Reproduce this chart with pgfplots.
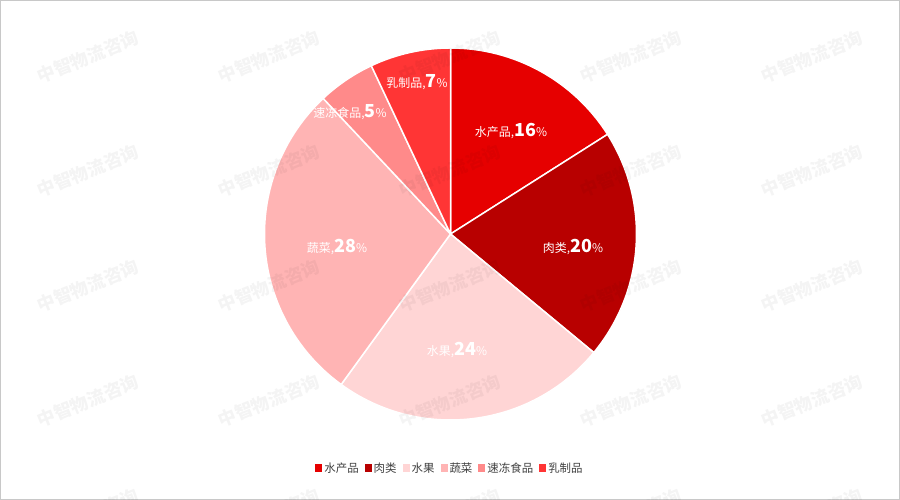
\documentclass[border=0pt]{standalone}
\usepackage{pgfplots}
\pgfplotsset{compat=1.18}
\usepackage{pgfplotstable}
\usepackage{fontspec}
\setmainfont{Noto Sans CJK SC}

\definecolor{c1}{HTML}{E60000}
\definecolor{c2}{HTML}{B80000}
\definecolor{c3}{HTML}{FFD5D5}
\definecolor{c4}{HTML}{FFB4B4}
\definecolor{c5}{HTML}{FF8A8A}
\definecolor{c6}{HTML}{FF3535}
\definecolor{lg}{HTML}{404040}
\definecolor{frame}{HTML}{C8C8C8}

% share of each category, slice colour, label position (px, origin bottom left)
\pgfplotstableread[col sep=comma]{
name,value,col,lx,ly
水产品,16,c1,511,369
肉类,20,c2,573,253
水果,24,c3,457,150
蔬菜,28,c4,337,253
速冻食品,5,c5,350,388
乳制品,7,c6,417,418
}\piedata

\newcommand\labfmt[2]{{\fontsize{12}{13}\selectfont #1,}{\fontsize{18}{19}\selectfont\bfseries #2}{\fontsize{12}{13}\selectfont\%}}

\begin{document}
\begin{tikzpicture}
\useasboundingbox (0,0) rectangle (900bp,500bp);
\clip (0,0) rectangle (900bp,500bp);
\begin{axis}[
  x=1bp, y=1bp,
  xmin=0, xmax=900, ymin=0, ymax=500,
  hide axis,
  legend columns=6,
  legend image code/.code={\fill[#1, draw=none] (0bp,-3.5bp) rectangle (7bp,3.5bp);},
  legend style={at={(axis cs:450,32)}, anchor=center, draw=none, fill=none,
    font=\fontsize{11.5}{13}\selectfont,
    nodes={text=lg, inner sep=2bp},
    /tikz/every even column/.append style={column sep=4bp}},
]
% slices
\def\cum{0}
\pgfplotsinvokeforeach{0,...,5}{
  \pgfplotstablegetelem{#1}{value}\of\piedata \let\pv\pgfplotsretval
  \pgfplotstablegetelem{#1}{col}\of\piedata \let\pc\pgfplotsretval
  \pgfmathsetmacro\sa{90-3.6*\cum}
  \pgfmathsetmacro\ea{90-3.6*(\cum+\pv)}
  \edef\doit{\noexpand\fill[\pc, draw=white, line width=1.5bp, line join=round]
    (axis cs:450.5,266) -- ++(\sa:186bp) arc[start angle=\sa, end angle=\ea, radius=186bp] -- cycle;}
  \doit
  \pgfmathsetmacro\tmp{\cum+\pv}\xdef\cum{\tmp}
}
% data labels
\pgfplotsinvokeforeach{0,...,5}{
  \pgfplotstablegetelem{#1}{value}\of\piedata \let\pv\pgfplotsretval
  \pgfplotstablegetelem{#1}{name}\of\piedata \let\pn\pgfplotsretval
  \pgfplotstablegetelem{#1}{lx}\of\piedata \let\plx\pgfplotsretval
  \pgfplotstablegetelem{#1}{ly}\of\piedata \let\ply\pgfplotsretval
  \edef\doit{\noexpand\node[text=white, inner sep=0pt] at (axis cs:\plx,\ply)
    {\noexpand\labfmt{\pn}{\pv}};}
  \doit
}
\draw[frame, line width=1bp] (axis cs:0.5,0.5) rectangle (axis cs:899.5,499.5);

\addlegendimage{fill=c1}\addlegendentry{水产品}
\addlegendimage{fill=c2}\addlegendentry{肉类}
\addlegendimage{fill=c3}\addlegendentry{水果}
\addlegendimage{fill=c4}\addlegendentry{蔬菜}
\addlegendimage{fill=c5}\addlegendentry{速冻食品}
\addlegendimage{fill=c6}\addlegendentry{乳制品}
\end{axis}
% watermark
\foreach \x in {88,269,450,631,812}{
  \foreach \y in {443,329,214,99,-15}{
    \node[rotate=22, text=black, text opacity=0.045,
      font=\fontsize{18}{20}\selectfont\bfseries] at (\x bp,\y bp) {中智物流咨询};
  }
}
\end{tikzpicture}
\end{document}
